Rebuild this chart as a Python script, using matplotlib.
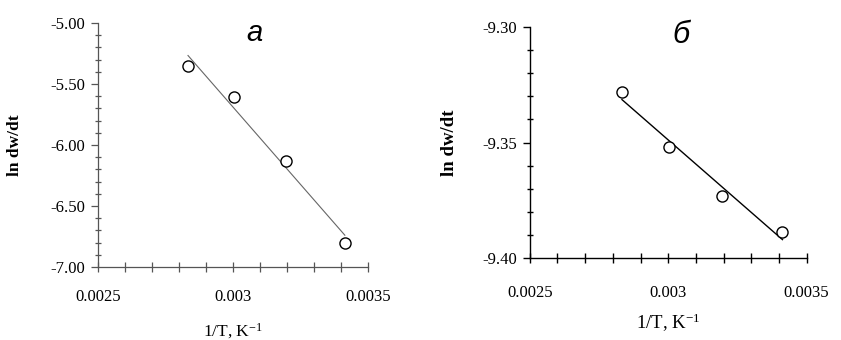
"""Arrhenius plots ln dw/dt vs 1/T, two panels."""
import numpy as np
import matplotlib
matplotlib.use("Agg")
import matplotlib.pyplot as plt
from matplotlib.ticker import MultipleLocator, FixedLocator, FormatStrFormatter

# data
inv_T = [0.002833, 0.003003, 0.003195, 0.003413]
ln_rate_a = [-5.35, -5.61, -6.13, -6.80]
ln_rate_b = [-9.328, -9.352, -9.373, -9.389]

x_ticks = [0.0025, 0.003, 0.0035]
x_ticklabels = ['0.0025', '0.003', '0.0035']
y_ticks_a = [-7.0, -6.5, -6.0, -5.5, -5.0]
y_ticks_b = [-9.40, -9.35, -9.30]

matplotlib.rcParams.update({'font.family': 'Liberation Serif',
                            'mathtext.fontset': 'custom',
                            'mathtext.rm': 'Liberation Serif',
                            'mathtext.default': 'regular'})

fig = plt.figure(figsize=(8.41, 3.40), dpi=100)
ax1 = fig.add_axes([0.1165, 0.2147, 0.3215, 0.7177])
ax2 = fig.add_axes([0.630, 0.242, 0.329, 0.6777])


def style(ax, yt, ylim, yminor, col, lw, xpad):
    for s in ['top', 'right']:
        ax.spines[s].set_visible(False)
    for s in ['left', 'bottom']:
        ax.spines[s].set_color(col)
        ax.spines[s].set_linewidth(lw)
    ax.set_xlim(0.0025, 0.0035)
    ax.set_ylim(*ylim)
    ax.xaxis.set_major_locator(FixedLocator(x_ticks))
    ax.set_xticklabels(x_ticklabels)
    ax.xaxis.set_minor_locator(MultipleLocator(0.0001))
    ax.yaxis.set_major_locator(FixedLocator(yt))
    ax.yaxis.set_minor_locator(MultipleLocator(yminor))
    ax.yaxis.set_major_formatter(FormatStrFormatter('%.2f'))
    ax.tick_params(axis='x', which='both', direction='inout', length=7,
                   width=lw, color=col, labelsize=12, pad=xpad)
    ax.tick_params(axis='y', which='major', direction='out', length=5,
                   width=lw, color=col, labelsize=12, pad=4)
    ax.tick_params(axis='y', which='minor', direction='inout', length=4,
                   width=lw, color=col)


style(ax1, y_ticks_a, (-7.0, -5.0), 0.1, '#555555', 0.9, 12)
p = np.polyfit(inv_T, ln_rate_a, 1)
xs = np.array([inv_T[0], inv_T[-1]])
ax1.plot(xs, np.polyval(p, xs), color='#666666', lw=0.8, zorder=2)
ax1.plot(inv_T, ln_rate_a, 'o', ms=8, mfc='white', mec='black', mew=1.0,
         zorder=3, clip_on=False)
ax1.set_xlabel('1/T, K$^{-1}$', fontsize=12.5, labelpad=12)
ax1.set_ylabel('ln dw/dt', fontsize=12.5, fontweight='bold', labelpad=20)
ax1.text(0.58, 0.96, 'a', transform=ax1.transAxes, ha='center', va='center',
         fontsize=21, style='italic', family='Liberation Sans')

style(ax2, y_ticks_b, (-9.40, -9.30), 0.01, 'black', 1.0, 16)
p = np.polyfit(inv_T, ln_rate_b, 1)
ax2.plot(xs, np.polyval(p, xs), color='black', lw=1.0, zorder=2)
ax2.plot(inv_T, ln_rate_b, 'o', ms=8, mfc='white', mec='black', mew=1.0,
         zorder=3, clip_on=False)
ax2.set_xlabel('1/T, K$^{-1}$', fontsize=13.5, labelpad=8)
ax2.set_ylabel('ln dw/dt', fontsize=13.5, fontweight='bold', labelpad=18)
ax2.text(0.548, 0.965, 'б', transform=ax2.transAxes, ha='center', va='center',
         fontsize=22, style='italic', family='Liberation Sans')

plt.savefig('out.png', dpi=100, facecolor='w')
